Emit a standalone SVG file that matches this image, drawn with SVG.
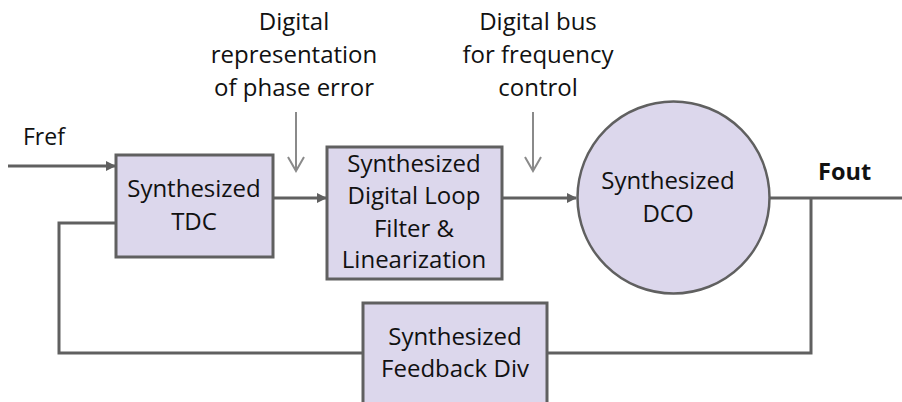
<svg xmlns="http://www.w3.org/2000/svg" width="902" height="402" viewBox="0 0 902 402">
  <style>
    .blk { fill: #dcd7ec; stroke: #606060; stroke-width: 3; }
    .wire { fill: none; stroke: #606060; stroke-width: 3; }
    .hint { fill: none; stroke: #8a8a8a; stroke-width: 2; }
    text { font-family: "Open Sans", Lato, "DejaVu Sans", sans-serif; font-size: 24px; fill: #111; text-anchor: middle; }
    .bold { font-weight: bold; font-size: 23.5px; }
  </style>
  <defs>
    <marker id="head" markerWidth="10" markerHeight="10" refX="9" refY="5" orient="auto" markerUnits="userSpaceOnUse" viewBox="0 0 10 10">
      <path d="M0,0 L10,5 L0,10 Z" fill="#606060"/>
    </marker>
  </defs>

  <rect width="902" height="402" fill="#ffffff"/>

  <!-- signal wires -->
  <g id="connectors">
    <line class="wire" x1="8" y1="166" x2="115" y2="166" marker-end="url(#head)"/>
    <line class="wire" x1="273" y1="198" x2="326" y2="198" marker-end="url(#head)"/>
    <line class="wire" x1="502" y1="198" x2="576" y2="198" marker-end="url(#head)"/>
    <line class="wire" x1="770" y1="198" x2="902" y2="198"/>
    <polyline class="wire" points="811,198 811,353 547,353"/>
    <polyline class="wire" points="363,353 59,353 59,223 116,223"/>
    <!-- annotation pointers -->
    <path class="hint" d="M296,112 V171 M288,157 L296,171 L304,157"/>
    <path class="hint" d="M533,112 V171 M525,157 L533,171 L541,157"/>
  </g>

  <!-- annotations -->
  <g id="labels">
    <text x="23" y="145" style="text-anchor:start;font-size:23px">Fref</text>
    <text class="bold" x="818" y="180" style="text-anchor:start">Fout</text>
    <text x="294" y="30">Digital</text>
    <text x="294" y="63">representation</text>
    <text x="294" y="96">of phase error</text>
    <text x="538" y="30">Digital bus</text>
    <text x="538" y="63">for frequency</text>
    <text x="538" y="96">control</text>
  </g>

  <g id="tdc">
    <rect class="blk" x="116" y="155" width="157" height="102"/>
    <text x="194" y="197">Synthesized</text>
    <text x="194" y="230">TDC</text>
  </g>

  <g id="loop-filter">
    <rect class="blk" x="327" y="147" width="175" height="132"/>
    <text x="414" y="172">Synthesized</text>
    <text x="414" y="204">Digital Loop</text>
    <text x="414" y="237">Filter &amp;</text>
    <text x="414" y="268">Linearization</text>
  </g>

  <g id="dco">
    <circle class="blk" cx="673.5" cy="197.5" r="96" style="stroke-width:2.5"/>
    <text x="668" y="189">Synthesized</text>
    <text x="668" y="222">DCO</text>
  </g>

  <g id="feedback-div">
    <rect class="blk" x="363" y="303" width="184" height="110"/>
    <text x="455" y="345">Synthesized</text>
    <text x="455" y="377">Feedback Div</text>
  </g>
</svg>
